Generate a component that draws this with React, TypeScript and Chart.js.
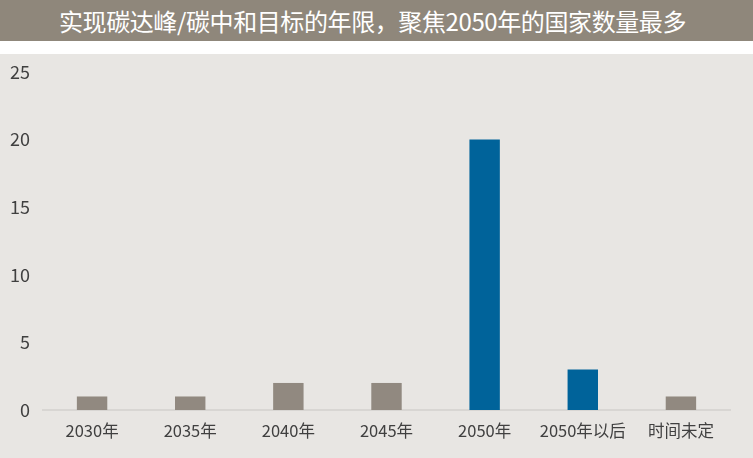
import { useEffect, useRef } from 'react';
import Chart from 'chart.js/auto';

const title = '实现碳达峰/碳中和目标的年限，聚焦2050年的国家数量最多';
const categories = ['2030年', '2035年', '2040年', '2045年', '2050年', '2050年以后', '时间未定'];
const countries = [1, 1, 2, 2, 20, 3, 1];
const highlighted = ['2050年', '2050年以后'];
const yTicks = [0, 5, 10, 15, 20, 25];

const GRAY = '#918980';
const BLUE = '#00639a';
const FONT = '"Noto Sans CJK SC", "Noto Sans", sans-serif';

const App = () => {
  const chartRef = useRef<HTMLCanvasElement>(null);

  useEffect(() => {
    let chart: Chart | undefined;
    if (chartRef.current) {
      chart = new Chart(chartRef.current, {
        type: 'bar',
        data: {
          labels: categories,
          datasets: [
            {
              data: countries,
              backgroundColor: categories.map((c) => (highlighted.includes(c) ? BLUE : GRAY)),
              categoryPercentage: 1,
              barPercentage: 0.31,
            },
          ],
        },
        options: {
          animation: false,
          responsive: true,
          maintainAspectRatio: false,
          layout: { padding: { left: 0, right: 23, top: 18, bottom: 0 } },
          plugins: {
            legend: { display: false },
            tooltip: { enabled: false },
          },
          scales: {
            x: {
              grid: { display: false, drawTicks: false },
              border: { display: true, color: '#d8d6d3', width: 2 },
              ticks: {
                color: '#404040',
                padding: 11,
                font: { family: FONT, size: 16.5 },
                maxRotation: 0,
              },
              afterFit: (scale: any) => {
                scale.height = 48;
              },
            },
            y: {
              min: 0,
              max: 25,
              afterBuildTicks: (scale: any) => {
                scale.ticks = yTicks.map((v) => ({ value: v }));
              },
              grid: { display: false, drawTicks: false },
              border: { display: false },
              ticks: {
                color: '#404040',
                padding: 13,
                font: { family: FONT, size: 18 },
              },
              afterFit: (scale: any) => {
                // keep tick padding from pushing the plot area down
                scale.width = 43;
                scale.paddingTop = 0;
                scale.paddingBottom = 0;
              },
            },
          },
        },
      });
    }
    return () => {
      chart?.destroy();
    };
  }, []);

  return (
    <div style={{ position: 'absolute', left: 0, top: 0, width: 753, height: 458, background: '#ffffff' }}>
      <div
        style={{
          height: 41,
          background: '#8f877b',
          color: '#ffffff',
          fontFamily: FONT,
          fontSize: 24,
          fontWeight: 400,
          letterSpacing: -0.4,
          lineHeight: '41px',
          textAlign: 'center',
          whiteSpace: 'nowrap',
          paddingRight: 8,
        }}
      >
        {title}
      </div>
      <div style={{ position: 'absolute', left: 0, top: 54, width: 753, height: 404, background: '#e8e6e3' }}>
        <canvas ref={chartRef}></canvas>
      </div>
    </div>
  );
};

export default App;
